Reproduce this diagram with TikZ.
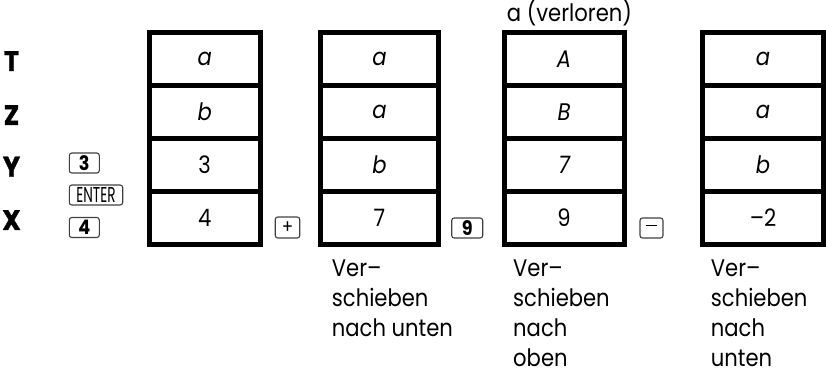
\documentclass[tikz,border=0pt]{standalone}
\usepackage{fontspec}
\setmainfont{Poppins}[FakeStretch=0.88]
\newfontfamily\labelfont{Poppins}[FakeStretch=0.92, BoldFeatures={FakeBold=1.2}]
\begin{document}
\begin{tikzpicture}[x=1pt,y=-1pt,
  cell/.style={draw, line width=5pt, inner sep=0pt, minimum height=53pt, font=\fontsize{24}{28}\selectfont},
  reglabel/.style={font=\labelfont\fontsize{28}{32}\selectfont\bfseries, inner sep=0pt},
  key/.style={draw=black!75, line width=1.1pt, rounded corners=2.5pt, inner sep=0pt, minimum height=20pt},
  keyfont/.style={font=\fontsize{20}{20}\selectfont\bfseries},
  symfont/.style={font=\fontsize{19}{20}\selectfont},
  note/.style={font=\fontsize{24}{30}\selectfont, align=left, anchor=north west, inner sep=0pt}]
\useasboundingbox (0,0) rectangle (826,376);

% stacks
\foreach \n/\cx/\w/\ta/\tb/\tc/\td in {
  1/204.7/111/{\itshape a}/{\itshape b}/3/4,
  2/379.5/117.4/{\itshape a}/{\itshape a}/{\itshape b}/7,
  3/564.1/119.8/{\itshape A}/{\itshape B}/{\itshape 7}/9,
  4/763/121/{\itshape a}/{\itshape a}/{\itshape b}/{–2}}{
  \node[cell, minimum width=\w pt] (s\n r1) at (\cx,59) {\ta};
  \node[cell, minimum width=\w pt] (s\n r2) at (\cx,112) {\tb};
  \node[cell, minimum width=\w pt] (s\n r3) at (\cx,165) {\tc};
  \node[cell, minimum width=\w pt] (s\n r4) at (\cx,218) {\td};
}

% register labels
\node[reglabel] (lT) at (11.5,61) {T};
\node[reglabel] (lZ) at (11.5,115) {Z};
\node[reglabel] (lY) at (11.5,166.5) {Y};
\node[reglabel] (lX) at (11.5,220) {X};

% keys
\node[key, minimum width=30pt, keyfont] (k3) at (84.3,163) {3};
\node[key, minimum width=53.4pt] (kenter) at (96,195) {\scalebox{0.72}[1]{\fontsize{21.5}{20}\selectfont ENTER}};
\node[key, minimum width=30pt, keyfont] (k4) at (84.3,227.5) {4};
\node[key, minimum width=24.5pt, minimum height=21pt, symfont] (kplus) at (287.5,227.5) {+};
\node[key, minimum width=31pt, keyfont] (k9) at (467.2,228) {9};
\node[key, minimum width=23pt, symfont] (kminus) at (651.5,228) {\rule[0.26em]{11pt}{1.3pt}};

% notes
\node[anchor=base west, inner sep=0pt, font=\fontsize{24}{28}\selectfont] (lost) at (506.7,21.5) {a (verloren)};
\node[note] (n2) at (331.7,260) {Ver–\\schieben\\nach unten};
\node[note] (n3) at (513,260) {Ver–\\schieben\\nach\\oben};
\node[note] (n4) at (710.7,260) {Ver–\\schieben\\nach\\unten};
\end{tikzpicture}
\end{document}
